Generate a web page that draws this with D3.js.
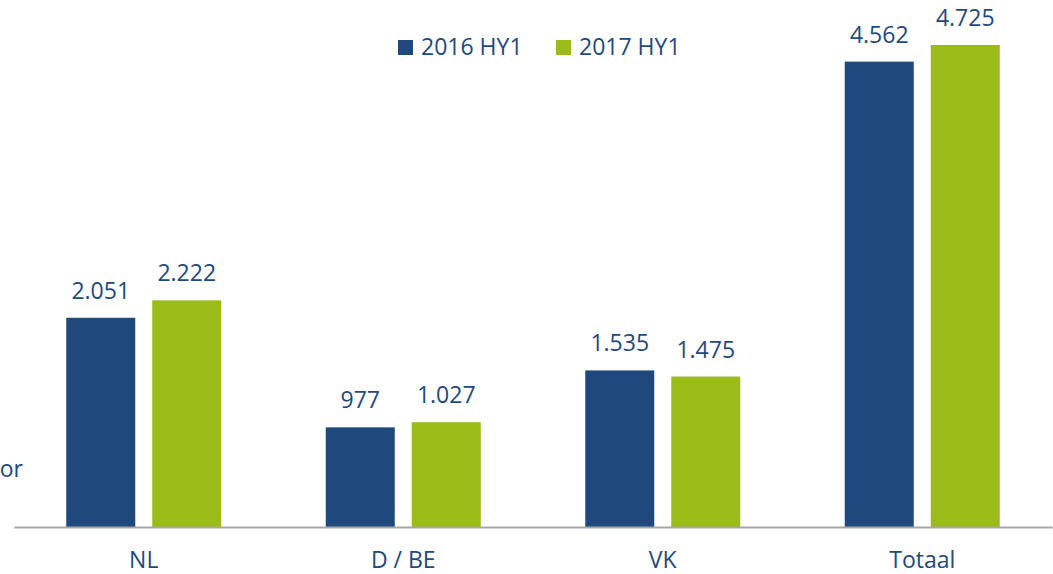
<!DOCTYPE html>
<html><head><meta charset="utf-8">
<script src="https://cdn.jsdelivr.net/npm/d3@7"></script>
<style>body{margin:0;background:#fff}svg{display:block}text{font-family:"Open Sans",sans-serif}</style>
</head><body><svg id="c" width="1053" height="574"></svg>
<script>
const categories = ["NL", "D / BE", "VK", "Totaal"];
const seriesNames = ["2016 HY1", "2017 HY1"];
const values2016 = [2051, 977, 1535, 4562];
const values2017 = [2222, 1027, 1475, 4725];
const labels2016 = ["2.051", "977", "1.535", "4.562"];
const labels2017 = ["2.222", "1.027", "1.475", "4.725"];
const colors = ["#1F497D", "#9BBB19"];
const textColor = "#1F497D";

const svg = d3.select("#c");
const x = d3.scaleBand().domain(categories).range([14, 1052]);
const xs = d3.scaleBand().domain(seriesNames)
  .range([x.bandwidth()/2 - 77.5, x.bandwidth()/2 + 77.5]).paddingInner(17/86);
const y = d3.scaleLinear().domain([0, 4725]).range([527, 45]);

const data = categories.map((c, i) => ({c, vals: [
  {s: seriesNames[0], v: values2016[i], l: labels2016[i]},
  {s: seriesNames[1], v: values2017[i], l: labels2017[i]}]}));

const g = svg.append("g").selectAll("g").data(data).join("g")
  .attr("transform", d => `translate(${x(d.c)},0)`);
g.selectAll("rect").data(d => d.vals).join("rect")
  .attr("x", d => xs(d.s)).attr("width", xs.bandwidth())
  .attr("y", d => y(d.v)).attr("height", d => y(0) - y(d.v))
  .attr("fill", (d, i) => colors[i]);
g.selectAll("text.lab").data(d => d.vals).join("text").attr("class", "lab")
  .attr("x", d => xs(d.s) + xs.bandwidth()/2).attr("y", d => y(d.v) - 19)
  .attr("text-anchor", "middle").attr("font-size", 23).attr("fill", textColor)
  .text(d => d.l);

// axis
const axis = svg.append("g").attr("transform", `translate(0,${y(0)})`)
  .call(d3.axisBottom(x).tickSize(0).tickPadding(25));
axis.select(".domain").attr("stroke", "#A6A6A6").attr("stroke-width", 2);
axis.selectAll("text").attr("font-size", 23).attr("fill", textColor)
  .attr("font-family", "'Open Sans', sans-serif");

// leftover clipped text
svg.append("text").attr("x", 23).attr("y", 477).attr("text-anchor", "end")
  .attr("font-size", 23).attr("fill", textColor).text("or");

// legend
const legX = [398, 556];
const leg = svg.append("g").selectAll("g").data(seriesNames).join("g")
  .attr("transform", (d, i) => `translate(${legX[i]},40)`);
leg.append("rect").attr("width", 15).attr("height", 15).attr("fill", (d, i) => colors[i]);
leg.append("text").attr("x", 23).attr("y", 15).attr("font-size", 23).attr("fill", textColor).text(d => d);
</script></body></html>
